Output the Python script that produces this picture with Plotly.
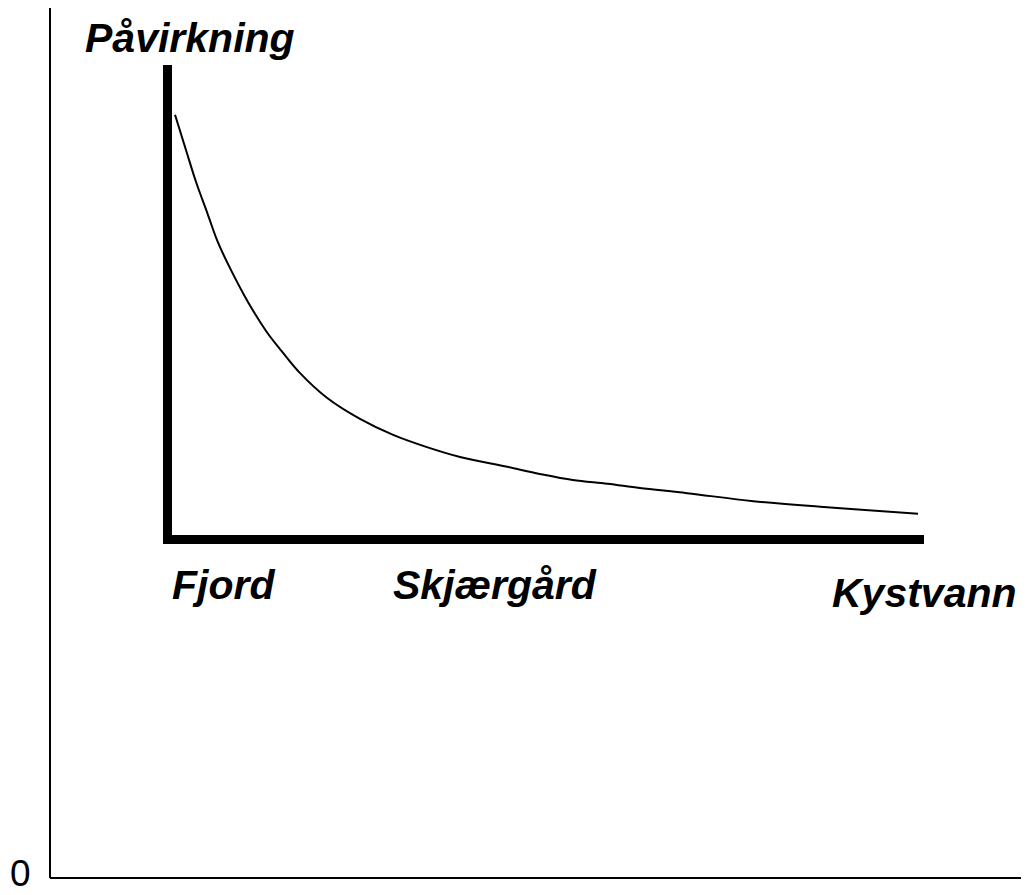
import plotly.graph_objects as go

# Distance out from the fjord (0-100) and relative impact (0-100)
distance = [0.4, 1.9, 3.2, 4.7, 6.1, 7.9, 10.1, 12.6, 14.8, 17.0, 20.6, 25.0, 29.4,
            33.9, 38.3, 44.6, 48.9, 53.3, 57.9, 62.2, 68.5, 77.3, 86.2, 99.2]
impact = [89.4, 81.7, 75.1, 68.5, 62.3, 56.2, 49.6, 43.2, 38.7, 34.5, 29.2, 24.7, 21.3,
          18.7, 16.6, 14.5, 13.0, 11.7, 10.9, 10.0, 8.9, 7.2, 6.0, 4.5]
zone_labels = ["Fjord", "Skjærgård", "Kystvann"]
y_title = "Påvirkning"
origin_label = "0"

PAGE_W, PAGE_H = 1029, 895
BODY = 8  # default body margin of the html page
L, R, T, B = 172, 924, 65, 535  # plot area, in screenshot pixels
INK = "#000000"
FONT = "Liberation Sans, Arial, sans-serif"


def px(x):
    return (x - L) / (R - L)


def py(y):
    return (B - y) / (B - T)


fig = go.Figure()
fig.add_trace(go.Scatter(
    x=distance, y=impact, mode="lines",
    line=dict(color=INK, width=2, shape="spline", smoothing=1.0),
    hoverinfo="skip", showlegend=False,
))

# outer frame of the scanned page (left + bottom)
fig.add_shape(type="line", xref="paper", yref="paper",
              x0=px(50), y0=py(0), x1=px(50), y1=py(878),
              line=dict(color=INK, width=2))
fig.add_shape(type="line", xref="paper", yref="paper",
              x0=px(50), y0=py(878), x1=px(PAGE_W), y1=py(878),
              line=dict(color=INK, width=2))

bold_it = dict(family=FONT, size=41, color=INK, weight="bold", style="italic")
label_pos = [(170, 585), (391, 585), (830, 593)]
for text, (x, y) in zip(zone_labels, label_pos):
    fig.add_annotation(text=text, xref="paper", yref="paper", x=px(x), y=py(y),
                       xanchor="left", yanchor="middle", showarrow=False, font=bold_it)
fig.add_annotation(text=y_title, xref="paper", yref="paper", x=px(83), y=py(38),
                   xanchor="left", yanchor="middle", showarrow=False, font=bold_it)
fig.add_annotation(text=origin_label, xref="paper", yref="paper", x=px(9), y=py(895),
                   xanchor="left", yanchor="bottom", showarrow=False, borderpad=0,
                   font=dict(family=FONT, size=37, color=INK))

axis_style = dict(showline=True, linewidth=9, linecolor=INK, showgrid=False,
                  zeroline=False, showticklabels=False, ticks="", fixedrange=True)
fig.update_xaxes(range=[0, 100], **axis_style)
fig.update_yaxes(range=[0, 100], **axis_style)

fig.update_layout(
    width=PAGE_W - BODY, height=PAGE_H - BODY,
    margin=dict(l=L - BODY, r=PAGE_W - R, t=T - BODY, b=PAGE_H - B, pad=0),
    paper_bgcolor="white", plot_bgcolor="white",
    showlegend=False,
)

fig.write_html("out.html")
